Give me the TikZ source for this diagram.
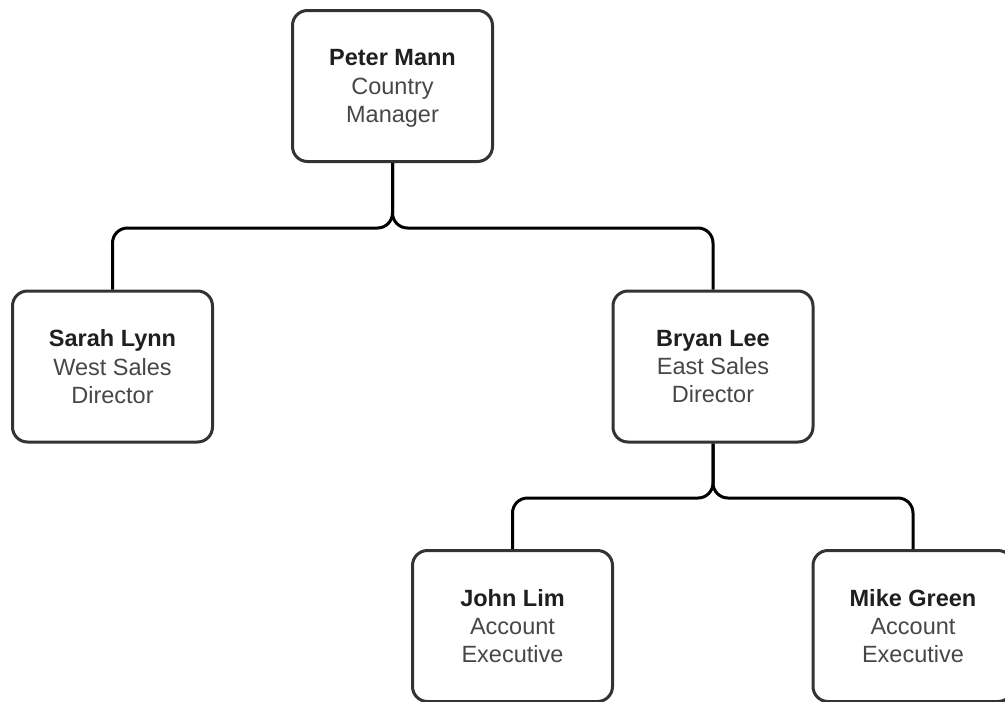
\documentclass[tikz,border=0pt]{standalone}
\usepackage{fontspec}
\setmainfont{Liberation Sans}
\begin{document}
\begin{tikzpicture}[x=1pt, y=-1pt,
    member/.style={draw=black!80, line width=3pt, rounded corners=15pt, fill=white,
        minimum width=200pt, minimum height=151pt, align=center, text=black!72,
        text depth=0pt, font=\fontsize{23.5pt}{28.3pt}\selectfont},
    link/.style={draw=black, line width=3pt, rounded corners=15pt}]
        % --- SETTINGS ---
        \def\SplitA{228}   % Height of first split line
        \def\SplitB{498}   % Height of second split line

        \useasboundingbox (0,0) rectangle (1005,702);

        % --- MEMBERS ---
        \node[member] (peter) at (392.5, 86) {\textcolor{black!88}{\textbf{Peter Mann}}\\Country\\Manager};
        \node[member] (sarah) at (112.5, 366.5) {\textcolor{black!88}{\textbf{Sarah Lynn}}\\West Sales\\Director};
        \node[member] (bryan) at (713, 366.5) {\textcolor{black!88}{\textbf{Bryan Lee}}\\East Sales\\Director};
        \node[member] (john) at (512.5, 626) {\textcolor{black!88}{\textbf{John Lim}}\\Account\\Executive};
        \node[member] (mike) at (913, 626) {\textcolor{black!88}{\textbf{Mike Green}}\\Account\\Executive};

        % --- SPLIT POINTS ---
        \coordinate (splitA) at (peter.south |- 0,\SplitA);
        \coordinate (splitB) at (bryan.south |- 0,\SplitB);

        % --- LINKS ---
        \foreach \child in {sarah, bryan} {
            \draw[link] (peter.south) -- (splitA) -| (\child.north);
        }
        \foreach \child in {john, mike} {
            \draw[link] (bryan.south) -- (splitB) -| (\child.north);
        }

    \end{tikzpicture}
\end{document}
